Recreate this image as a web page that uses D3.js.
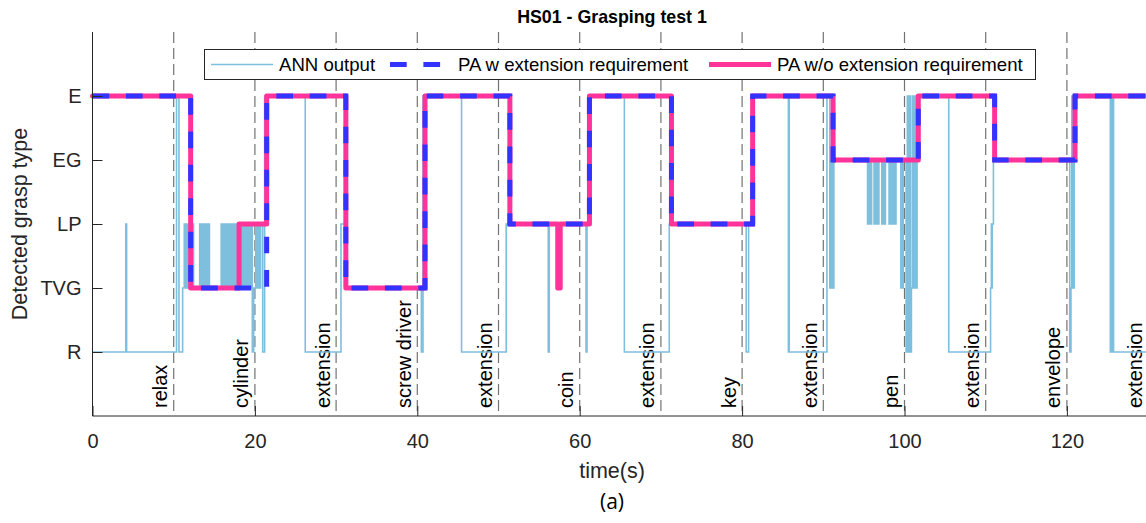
<!DOCTYPE html>
<html>
<head>
<meta charset="utf-8">
<script src="https://cdn.jsdelivr.net/npm/d3@7"></script>
<style>
    body { margin: 0; background: #fff; }
    #chart { width: 1146px; height: 523px; }
    text { font-family: "Liberation Sans", Arial, Helvetica, sans-serif; fill: #262626; }
</style>
</head>
<body>
<div id="chart"></div>
<script>

// grasp levels, bottom to top (value 1..5)
var levels = ["R", "TVG", "LP", "EG", "E"];
var xTicks = [0, 20, 40, 60, 80, 100, 120];

// task phases: label sits left of the dashed line at its end time
var phaseEnds = [10, 20, 30, 40, 50, 60, 70, 80, 90, 100, 110, 120, 130];
var phaseLabels = ["relax", "cylinder", "extension", "screw driver", "extension", "coin",
    "extension", "key", "extension", "pen", "extension", "envelope", "extension"];

// [time, level] steps, level holds until next time
var annOutput = [
    [0, 1], [4.1, 3], [4.2, 1],
    [10.35, 5], [10.65, 1], [11.1, 2],
    [11.3, 3], [11.4, 2], [11.5, 3], [11.6, 2], [11.7, 3], [11.8, 2], [11.9, 3], [12.0, 2], [12.1, 3], [12.2, 2], [12.3, 3], [12.45, 2],
    [13.2, 3], [13.3, 2], [13.35, 3], [13.45, 2], [13.5, 3], [13.6, 2], [13.65, 3], [13.75, 2], [13.8, 3], [13.9, 2], [13.95, 3], [14.05, 2], [14.1, 3], [14.2, 2], [14.25, 3], [14.4, 2],
    [15.85, 3], [15.95, 2], [16.1, 3], [16.2, 2], [16.4, 3], [16.5, 2], [16.6, 3], [16.7, 2], [16.8, 3], [16.9, 2], [17.05, 3], [17.15, 2], [17.3, 3], [17.4, 2], [17.55, 3], [17.65, 2], [17.85, 3], [17.95, 2],
    [18.1, 3], [18.2, 2], [18.35, 3], [18.45, 2], [18.5, 3], [18.6, 2], [18.7, 3], [18.8, 2], [18.85, 3], [18.95, 2], [19.05, 3], [19.15, 2], [19.2, 3], [19.3, 2], [19.4, 3], [19.5, 2], [19.55, 3],
    [19.68, 1], [19.85, 2], [20.1, 3], [20.3, 2], [20.4, 3], [20.6, 2], [20.7, 3], [20.96, 1], [21.2, 5],
    [26.2, 1], [30.6, 3], [31.2, 2], [40.5, 1], [40.7, 5],
    [45.45, 1], [50.95, 3],
    [56.13, 1], [56.25, 3], [57.15, 2], [57.55, 3], [60.78, 1], [60.9, 3], [61.2, 5],
    [65.5, 1], [71.03, 3],
    [80.5, 1], [80.8, 3], [81.3, 5],
    [85.7, 1], [85.75, 5], [85.8, 1], [90.45, 5], [90.8, 2], [90.9, 4], [91.0, 2], [91.1, 4], [91.2, 2], [91.3, 4],
    [95.45, 3], [95.6, 4], [95.8, 3], [95.95, 4], [96.25, 3], [96.4, 4], [96.45, 3], [96.65, 4], [96.7, 3], [96.85, 4],
    [97.2, 3], [97.35, 4], [97.45, 3], [97.65, 4], [98.1, 3], [98.25, 4], [98.3, 3], [98.5, 4], [98.55, 3], [98.75, 4], [98.8, 3], [98.95, 4],
    [99.55, 2], [99.7, 4], [99.75, 2], [99.85, 4], [100.2, 1], [100.35, 5], [100.45, 1], [100.6, 5], [100.7, 1], [100.85, 2],
    [100.95, 5], [101.05, 2], [101.15, 5], [101.25, 2], [101.35, 5], [101.45, 2], [101.55, 5],
    [105.45, 1], [110.6, 2], [110.7, 3], [110.75, 2], [110.8, 3], [110.95, 4],
    [120.35, 1], [120.5, 2], [120.6, 5], [120.65, 2], [120.75, 5], [120.8, 2], [120.9, 5],
    [125.35, 1], [125.45, 5], [125.55, 1], [125.65, 5], [125.75, 1],
    [130, 1]
];

var paWithExt = [
    [0, 5], [12.09, 2], [21.45, 5], [31.2, 2], [40.95, 5], [51.4, 3], [61.2, 5], [71.3, 3],
    [81.3, 5], [91.2, 4], [101.7, 5], [111.1, 4], [121.0, 5], [130, 5]
];

var paWithoutExt = [
    [0, 5], [12.09, 2], [18.05, 3], [21.45, 5], [31.2, 2], [40.95, 5], [51.4, 3], [57.3, 2], [57.6, 3],
    [61.2, 5], [71.3, 3], [81.3, 5], [91.2, 4], [101.7, 5], [111.1, 4], [121.0, 5], [130, 5]
];

function drawGraspChart(value) {

    // reset svg
    d3.select(value.id).html("");

    var svg = d3.select(value.id)
        .append("svg")
        .attr("width", value.width)
        .attr("height", value.height);

    var x = d3.scaleLinear()
        .domain([0, 130])
        .range([value.left, value.left + 130 * value.pxPerSec]);

    var y = d3.scaleLinear()
        .domain([0, 6])
        .range([value.bottom, value.top]);

    // phase separators
    svg.selectAll(".sep")
        .data(phaseEnds.filter(function (d) { return d < 130; }))
        .enter()
        .append("line")
        .attr("x1", function (d) { return x(d); })
        .attr("x2", function (d) { return x(d); })
        .attr("y1", value.top)
        .attr("y2", value.bottom)
        .attr("stroke", "#737373")
        .attr("stroke-width", 1.2)
        .attr("stroke-dasharray", "11,5");

    // phase labels, rotated
    svg.selectAll(".phase")
        .data(phaseEnds)
        .enter()
        .append("text")
        .attr("transform", function (d) {
            return "translate(" + (x(d) - 6.5) + "," + (value.bottom - 8) + ") rotate(-90)";
        })
        .style("font-size", "20px")
        .style("fill", "#000")
        .text(function (d, i) { return phaseLabels[i]; });

    var step = d3.line()
        .curve(d3.curveStepAfter)
        .x(function (d) { return x(d[0]); })
        .y(function (d) { return y(d[1]); });

    svg.append("path")
        .datum(annOutput)
        .attr("fill", "none")
        .attr("stroke", "#7dbfdd")
        .attr("stroke-width", 1.6)
        .attr("d", step);

    svg.append("path")
        .datum(paWithoutExt)
        .attr("fill", "none")
        .attr("stroke", "#ff3399")
        .attr("stroke-width", 5)
        .attr("stroke-linejoin", "round")
        .attr("stroke-linecap", "round")
        .attr("d", step);

    svg.append("path")
        .datum(paWithExt)
        .attr("fill", "none")
        .attr("stroke", "#3333ff")
        .attr("stroke-width", 5)
        .attr("stroke-dasharray", "16.7,16.7")
        .attr("d", step);

    // axes (ticks point inward like matlab)
    var xaxis = svg.append("g")
        .attr("transform", "translate(0," + value.bottom + ")")
        .call(d3.axisBottom(x).tickValues(xTicks).tickSizeInner(-10).tickSizeOuter(0).tickPadding(18));

    var yaxis = svg.append("g")
        .attr("transform", "translate(" + value.left + ",0)")
        .call(d3.axisLeft(y).tickValues([1, 2, 3, 4, 5]).tickSizeInner(-10).tickSizeOuter(0).tickPadding(11)
            .tickFormat(function (d) { return levels[d - 1]; }));

    xaxis.select(".domain").attr("d", "M" + value.left + ",0H" + value.width);
    yaxis.select(".domain").attr("d", "M0," + value.top + "V" + value.bottom);

    [xaxis, yaxis].forEach(function (ax) {
        ax.selectAll("line").style("stroke", "#262626");
        ax.selectAll("path").style("stroke", "#262626");
        ax.selectAll("text")
            .style("font-family", "'Liberation Sans', Arial, sans-serif")
            .style("font-size", "20px")
            .style("fill", "#262626");
    });

    // titles
    svg.append("text")
        .attr("x", 612)
        .attr("y", 23)
        .attr("text-anchor", "middle")
        .style("font-size", "17.8px")
        .style("font-weight", "bold")
        .style("fill", "#000")
        .text("HS01 - Grasping test 1");

    svg.append("text")
        .attr("x", 612)
        .attr("y", 478)
        .attr("text-anchor", "middle")
        .style("font-size", "21.5px")
        .text("time(s)");

    svg.append("text")
        .attr("transform", "translate(27," + ((value.top + value.bottom) / 2) + ") rotate(-90)")
        .attr("text-anchor", "middle")
        .style("font-size", "21.5px")
        .text("Detected grasp type");

    svg.append("text")
        .attr("x", 612)
        .attr("y", 509)
        .attr("text-anchor", "middle")
        .style("font-family", "'Open Sans', sans-serif")
        .style("font-size", "21px")
        .style("fill", "#000")
        .text("(a)");

    // legend
    var lg = value.legend;
    svg.append("rect")
        .attr("x", lg.x)
        .attr("y", lg.y)
        .attr("width", lg.width)
        .attr("height", lg.height)
        .attr("fill", "#fff")
        .attr("stroke", "#262626")
        .attr("stroke-width", 1);

    var entries = svg.selectAll(".legend")
        .data(lg.items)
        .enter()
        .append("g")
        .attr("class", "legend");

    entries.append("line")
        .attr("x1", function (d) { return d.x; })
        .attr("x2", function (d) { return d.x + 62; })
        .attr("y1", lg.y + lg.height / 2)
        .attr("y2", lg.y + lg.height / 2)
        .attr("stroke", function (d) { return d.stroke; })
        .attr("stroke-width", function (d) { return d.strokeWidth; })
        .attr("stroke-dasharray", function (d) { return d.dash; });

    entries.append("text")
        .attr("x", function (d) { return d.x + 68; })
        .attr("y", lg.y + lg.height / 2 + 6.5)
        .style("font-size", "18.6px")
        .style("fill", "#000")
        .text(function (d) { return d.label; });
}

drawGraspChart({
    id: "#chart",
    width: 1146,
    height: 523,
    left: 92.5,
    pxPerSec: 8.12,
    top: 32,
    bottom: 416,
    legend: {
        x: 204.5, y: 49.5, width: 831, height: 30,
        items: [
            { label: "ANN output", x: 211, stroke: "#7dbfdd", strokeWidth: 1.6, dash: null },
            { label: "PA w extension requirement", x: 390, stroke: "#3333ff", strokeWidth: 5, dash: "16.7,16.7" },
            { label: "PA w/o extension requirement", x: 709, stroke: "#ff3399", strokeWidth: 5, dash: null }
        ]
    }
});

</script>
</body>
</html>
